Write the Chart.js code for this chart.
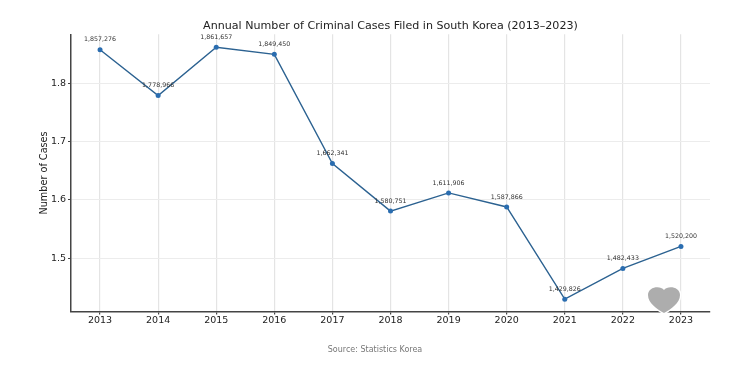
<!DOCTYPE html>
<html>
<head>
<meta charset="utf-8">
<title>Criminal Cases in South Korea</title>
<script src="https://cdn.jsdelivr.net/npm/chart.js@4"></script>
<style>
    html, body { margin: 0; padding: 0; background: #fff; }
    #wrap { position: relative; width: 750px; height: 367px; overflow: hidden; }
    #heart { position: absolute; left: 646px; top: 284px; }
</style>
</head>
<body>
<div id="wrap">
    <canvas id="line-chart" width="750" height="367"></canvas>
    <!-- watermark heart sitting over the x axis -->
    <svg id="heart" width="36" height="34" viewBox="0 0 36 34">
        <path d="M18 29 C11 25 2 19 2 11 C2 3 14 1 18 6 C22 1 34 3 34 11 C34 19 25 25 18 29 Z" fill="#adadad" stroke="#fff" stroke-width="3" paint-order="stroke"/>
    </svg>
</div>
<script>
// Chart data
const years = ['2013', '2014', '2015', '2016', '2017', '2018', '2019', '2020', '2021', '2022', '2023'];
const cases = [1857276, 1778966, 1861657, 1849450, 1662341, 1580751, 1611906, 1587866, 1429826, 1482433, 1520200];
const yTicks = [1500000, 1600000, 1700000, 1800000];
const yMin = 1408500;
const yMax = 1883800;
const chartTitle = 'Annual Number of Criminal Cases Filed in South Korea (2013\u20132023)';
const yAxisTitle = 'Number of Cases';
const sourceText = 'Source: Statistics Korea';

const fontName = '"DejaVu Sans"';

// Value labels above the points and the source line under the chart
const annotations = {
    id: 'annotations',
    afterLayout(chart) {
        // title is centred on the plot, not on the whole left-padded box
        chart.titleBlock.left = chart.chartArea.left;
    },
    afterDatasetsDraw(chart) {
        const ctx = chart.ctx;
        const points = chart.getDatasetMeta(0).data;
        ctx.save();
        ctx.textAlign = 'center';
        ctx.textBaseline = 'middle';
        ctx.font = '6.3px ' + fontName;
        ctx.fillStyle = '#333';
        points.forEach((pt, i) => {
            ctx.fillText(cases[i].toLocaleString('en-US'), pt.x, pt.y - 10);
        });
        ctx.font = '8px ' + fontName;
        ctx.fillStyle = '#777';
        ctx.fillText(sourceText, chart.width / 2, 349.5);
        ctx.restore();
    }
};

const ctx = document.getElementById('line-chart').getContext('2d');
const lineChart = new Chart(ctx, {
    type: 'line',
    data: {
        labels: years,
        datasets: [{
            data: cases,
            borderColor: '#2c6291',
            borderWidth: 1.4,
            pointRadius: 2.5,
            pointBackgroundColor: '#2a6db0',
            pointBorderWidth: 0,
            tension: 0
        }]
    },
    options: {
        responsive: false,
        animation: false,
        layout: {
            padding: { left: 31, right: 40, top: 0, bottom: 41 }
        },
        plugins: {
            legend: { display: false },
            tooltip: { enabled: false },
            title: {
                display: true,
                text: chartTitle,
                color: '#222',
                font: { family: fontName, size: 11.1, weight: 'normal' },
                padding: { top: 19, bottom: 2 }
            }
        },
        scales: {
            x: {
                offset: true,
                border: { color: '#444', width: 1.5 },
                grid: { color: '#e4e4e4', lineWidth: 1.2, tickLength: 3, tickColor: '#444', offset: false },
                ticks: { color: '#222', font: { family: fontName, size: 9.5 }, padding: 0, maxRotation: 0 }
            },
            y: {
                min: yMin,
                max: yMax,
                afterFit(scale) { scale.width = 40; },
                afterBuildTicks(scale) {
                    scale.min = yMin;
                    scale.max = yMax;
                    scale.ticks = yTicks.map((value) => ({ value }));
                },
                border: { color: '#444', width: 1.5 },
                grid: { color: '#ececec', lineWidth: 1, tickLength: 3, tickColor: '#444' },
                title: {
                    display: true,
                    text: yAxisTitle,
                    color: '#222',
                    font: { family: fontName, size: 9.7 },
                    padding: { top: 8, bottom: 0 }
                },
                ticks: {
                    color: '#222',
                    font: { family: fontName, size: 9.5 },
                    padding: 2,
                    callback: (value) => (value / 1000000).toFixed(1)
                }
            }
        }
    },
    plugins: [annotations]
});
</script>
</body>
</html>
